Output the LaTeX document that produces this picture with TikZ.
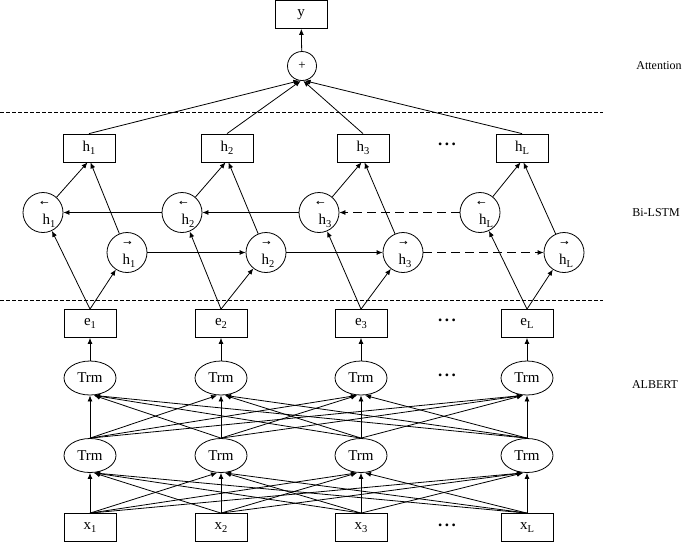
\documentclass[tikz,border=0pt]{standalone}
\usepackage{fontspec}
\setmainfont{Liberation Serif}
\newfontfamily\symfont{DejaVu Sans}
\usetikzlibrary{arrows.meta,shapes.geometric}
\newcommand\mysub[1]{\raisebox{-0.2em}{\fontsize{10.5}{10.5}\selectfont #1}}
\newcommand\mydots{{\bfseries .\hspace{2.4pt}.\hspace{2.4pt}.}}
\begin{document}
\begin{tikzpicture}[x=1pt,y=-1pt,line width=0.8pt,
  box/.style={draw,minimum width=52pt,minimum height=28pt,inner sep=0pt,font=\fontsize{15}{15}\selectfont},
  trm/.style={draw,ellipse,minimum width=52pt,minimum height=34pt,inner sep=0pt,font=\fontsize{15}{15}\selectfont},
  cell/.style={draw,circle,minimum size=40pt,inner sep=0pt},
  arr/.style={-{Latex[length=6pt,width=5pt]}},
  sepline/.style={dash pattern=on 4pt off 2pt,line width=0.8pt},
  longdash/.style={dash pattern=on 9pt off 5pt},
  lbl/.style={font=\fontsize{12}{12}\selectfont},
  htxt/.style={font=\fontsize{15}{15}\selectfont,inner sep=0pt},
  atxt/.style={font=\fontsize{8}{8}\selectfont\symfont,inner sep=0pt},
  dotsn/.style={font=\fontsize{17}{17}\selectfont,inner sep=0pt},
]
\useasboundingbox (0,0) rectangle (685,542);
% separators
\draw[sepline] (0,112) -- (603,112);
\draw[sepline] (0,300) -- (603,300);
% labels
\node[lbl] (lat) at (659,66) {Attention};
\node[lbl] (lbi) at (656,213) {Bi-LSTM};
\node[lbl] (lal) at (655,385) {ALBERT};
% top
\node[box,minimum height=28pt] (y) at (301,14.5) {y};
\node[draw,circle,minimum size=29pt,inner sep=0pt,font=\fontsize{13}{13}\selectfont] (p) at (302,66) {+};
\draw[arr] (p) -- (y);
% columns
\foreach \i/\xc/\hc/\bc/\fc/\s in {1/90/89/43/127/1,2/221/227/182/266/2,3/361/363/319/403/3,4/527/522/480/564/L}{
  \node[box] (x\i) at (\xc,527.5) {x\mysub{\s}};
  \node[trm] (t\i) at (\xc,455.5) {Trm};
  \node[trm] (u\i) at (\xc,378) {Trm};
  \node[box] (e\i) at (\xc,323.5) {e\mysub{\s}};
  \node[box] (h\i) at (\hc,148) {h\mysub{\s}};
  \node[cell] (b\i) at (\bc,212.5) {};
  \node[cell] (f\i) at (\fc,252.5) {};
  \node[atxt] (ba\i) at (\bc+1.5,203) {\scalebox{1.3}[1]{←}};
  \node[htxt] (bh\i) at (\bc+6,221) {h\mysub{\s}};
  \node[atxt] (fa\i) at (\fc+0.5,243) {\scalebox{1.3}[1]{→}};
  \node[htxt] (fh\i) at (\fc+2,261) {h\mysub{\s}};
  \draw[arr] (u\i) -- (e\i);
  \draw[arr] (e\i.north) -- (b\i);
  \draw[arr] (e\i.north) -- (f\i);
  \draw[arr] (b\i) -- ([xshift=-1.5pt]h\i.south);
  \draw[arr] (f\i) -- ([xshift=1.5pt]h\i.south);
}
\node[dotsn] (d1) at (447,144) {\mydots};
\node[dotsn] (d2) at (447,320) {\mydots};
\node[dotsn] (d3) at (447,375) {\mydots};
\node[dotsn] (d4) at (447,525) {\mydots};
% full connections
\foreach \i in {1,...,4}{
  \foreach \j in {1,...,4}{
    \pgfmathsetmacro\off{4*sign(\i-\j)}
    \draw[arr] (t\i.north) -- ([xshift=\off pt]u\j.south);
    \draw[arr] (x\i.north) -- ([xshift=\off pt]t\j.south);
  }
}
% recurrent
\draw[arr] (b2) -- (b1);
\draw[arr] (b3) -- (b2);
\draw[arr,longdash] (b4) -- (b3);
\draw[arr] (f1) -- (f2);
\draw[arr] (f2) -- (f3);
\draw[arr,longdash] (f3) -- (f4);
% attention
\draw[arr] (h1.north) -- (p.-100);
\draw[arr] (h2.north) -- (p.-95);
\draw[arr] (h3.north) -- (p.-85);
\draw[arr] (h4.north) -- (p.-80);
\end{tikzpicture}
\end{document}
